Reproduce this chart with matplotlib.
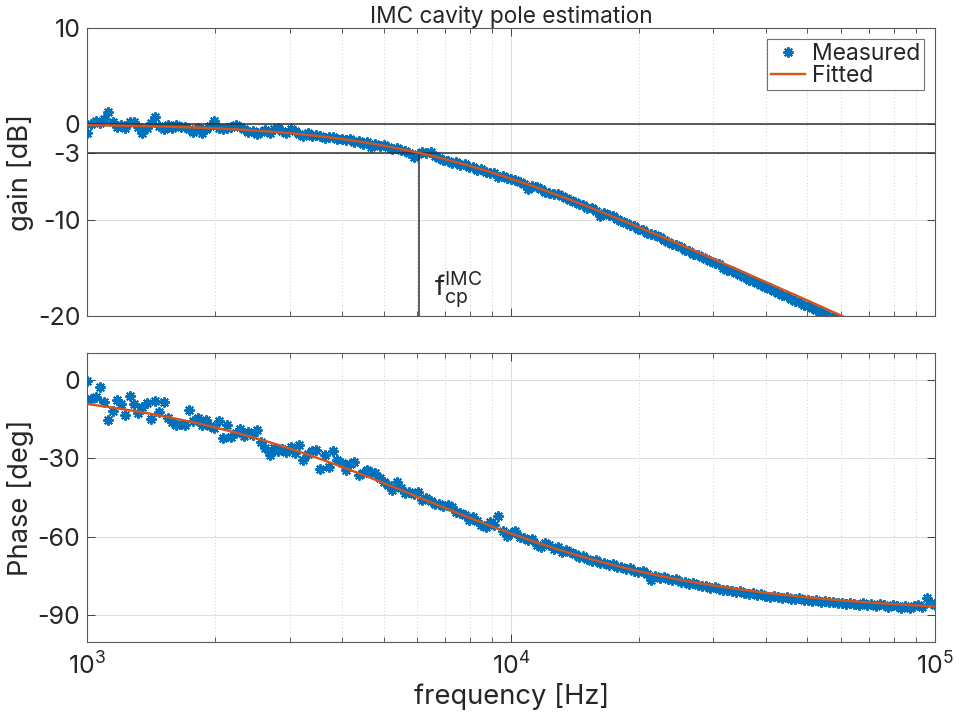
import numpy as np
import matplotlib
matplotlib.use("Agg")
import matplotlib.pyplot as plt
from matplotlib.ticker import LogLocator, FuncFormatter, NullFormatter

plt.rcParams["font.family"] = ["Inter", "DejaVu Sans"]
plt.rcParams["mathtext.fontset"] = "custom"
plt.rcParams["mathtext.rm"] = "Inter"
plt.rcParams["axes.unicode_minus"] = False

# ---- measured transfer function (swept sine, 100 points per decade) ----
freq_hz = [
    1000, 1023, 1047, 1072, 1096, 1122, 1148, 1175, 1202, 1230,
    1259, 1288, 1318, 1349, 1380, 1413, 1445, 1479, 1514, 1549,
    1585, 1622, 1660, 1698, 1738, 1778, 1820, 1862, 1905, 1950,
    1995, 2042, 2089, 2138, 2188, 2239, 2291, 2344, 2399, 2455,
    2512, 2570, 2630, 2692, 2754, 2818, 2884, 2951, 3020, 3090,
    3162, 3236, 3311, 3388, 3467, 3548, 3631, 3715, 3802, 3890,
    3981, 4074, 4169, 4266, 4365, 4467, 4571, 4677, 4786, 4898,
    5012, 5129, 5248, 5370, 5495, 5623, 5754, 5888, 6026, 6166,
    6310, 6457, 6607, 6761, 6918, 7079, 7244, 7413, 7586, 7762,
    7943, 8128, 8318, 8511, 8710, 8913, 9120, 9333, 9550, 9772,
    10000, 10233, 10471, 10715, 10965, 11220, 11482, 11749, 12023, 12303,
    12589, 12882, 13183, 13490, 13804, 14125, 14454, 14791, 15136, 15488,
    15849, 16218, 16596, 16982, 17378, 17783, 18197, 18621, 19055, 19498,
    19953, 20417, 20893, 21380, 21878, 22387, 22909, 23442, 23988, 24547,
    25119, 25704, 26303, 26915, 27542, 28184, 28840, 29512, 30200, 30903,
    31623, 32359, 33113, 33884, 34674, 35481, 36308, 37154, 38019, 38905,
    39811, 40738, 41687, 42658, 43652, 44668, 45709, 46774, 47863, 48978,
    50119, 51286, 52481, 53703, 54954, 56234, 57544, 58884, 60256, 61660,
    63096, 64565, 66069, 67608, 69183, 70795, 72444, 74131, 75858, 77625,
    79433, 81283, 83176, 85114, 87096, 89125, 91201, 93325, 95499, 97724,
    100000,
]

gain_meas_db = [
    -0.90, 0.05, 0.35, 0.10, 0.55, 1.25, 0.20, -0.35, -0.10, -0.45,
    0.25, 0.20, -0.30, -0.95, -0.40, 0.15, 0.70, -0.20, -0.55, -0.10,
    -0.45, -0.10, -0.35, -0.30, -0.50, -0.80, -0.40, -0.95, -0.55, -0.25,
    0.35, -0.40, -0.55, -0.45, -0.30, -0.15, -0.35, -0.55, -0.80, -0.70,
    -1.05, -0.85, -0.65, -0.95, -0.55, -0.40, -0.75, -0.95, -0.50, -0.70,
    -1.00, -1.20, -0.95, -1.25, -1.10, -1.20, -1.50, -1.30, -1.35, -1.60,
    -1.55, -1.70, -1.55, -1.85, -1.75, -2.05, -1.90, -2.35, -2.05, -2.30,
    -2.15, -2.40, -2.65, -2.45, -2.70, -2.85, -3.05, -3.45, -3.15, -2.95,
    -3.05, -2.95, -3.30, -3.55, -3.75, -3.80, -4.05, -4.00, -4.30, -4.20,
    -4.45, -4.50, -4.80, -4.70, -4.95, -5.10, -5.15, -5.50, -5.45, -5.65,
    -5.75, -5.80, -6.05, -6.20, -6.75, -6.45, -6.60, -6.75, -7.05, -7.20,
    -7.30, -7.25, -7.45, -7.75, -7.95, -8.10, -8.30, -8.40, -8.75, -8.70,
    -9.05, -9.55, -9.25, -9.45, -9.60, -9.85, -10.15, -10.30, -10.55, -10.60,
    -10.90, -11.05, -11.35, -11.50, -11.60, -11.80, -12.10, -12.25, -12.45, -12.55,
    -12.85, -13.10, -13.25, -13.50, -13.65, -13.85, -14.10, -14.30, -14.50, -14.60,
    -14.95, -15.20, -15.35, -15.50, -15.75, -15.95, -16.20, -16.35, -16.60, -16.80,
    -16.95, -17.20, -17.40, -17.55, -17.80, -17.95, -18.20, -18.40, -18.55, -18.80,
    -18.95, -19.20, -19.40, -19.55, -19.80, -19.95, -20.15, -20.35, -20.55, -20.75,
    -20.90, -21.10, -21.30, -21.50, -21.70, -21.90, -22.10, -22.30, -22.50, -22.70,
    -22.90, -23.10, -23.30, -23.50, -23.70, -23.90, -24.10, -24.30, -24.50, -24.70,
    -24.90,
]

phase_meas_deg = [
    -0.4, -7.6, -6.8, -2.9, -8.6, -15.4, -12.2, -8.0, -9.5, -13.5,
    -6.2, -9.3, -12.8, -10.5, -9.0, -15.2, -8.3, -12.5, -8.6, -14.5,
    -16.3, -17.5, -16.8, -17.2, -11.8, -16.0, -14.8, -17.3, -15.5, -17.9,
    -18.6, -15.7, -22.4, -17.3, -21.8, -20.3, -19.0, -21.5, -20.2, -21.0,
    -19.3, -23.7, -26.2, -28.8, -26.0, -27.2, -26.4, -27.6, -25.8, -28.1,
    -25.0, -30.7, -28.5, -27.4, -27.0, -34.2, -28.8, -33.2, -27.1, -30.7,
    -31.8, -34.5, -32.1, -31.5, -36.4, -35.8, -34.5, -35.2, -35.7, -37.5,
    -39.0, -40.2, -42.2, -39.0, -41.5, -43.4, -42.8, -43.6, -43.0, -46.0,
    -45.2, -46.5, -47.3, -47.5, -48.2, -47.8, -48.8, -50.6, -51.0, -51.8,
    -53.5, -52.6, -54.0, -55.5, -56.2, -54.5, -55.3, -52.1, -57.8, -59.5,
    -58.6, -57.7, -60.1, -60.4, -61.2, -61.0, -63.2, -63.8, -62.5, -63.3,
    -64.8, -64.0, -65.6, -65.2, -65.9, -66.6, -67.8, -67.3, -68.3, -69.2,
    -68.8, -69.9, -70.0, -70.8, -70.4, -71.5, -71.6, -72.4, -71.9, -72.9,
    -73.4, -73.1, -74.3, -76.5, -74.9, -75.6, -75.2, -76.1, -76.5, -76.0,
    -77.1, -77.4, -77.8, -77.6, -78.3, -78.6, -78.9, -79.4, -79.1, -79.8,
    -80.2, -80.1, -80.6, -80.9, -80.5, -81.3, -81.7, -81.6, -82.3, -81.9,
    -82.5, -82.8, -82.4, -83.1, -83.4, -83.0, -83.6, -83.9, -83.5, -84.2,
    -84.0, -84.5, -84.1, -84.8, -84.6, -85.0, -84.7, -85.3, -85.1, -85.6,
    -85.2, -85.5, -85.9, -85.4, -86.1, -85.7, -86.3, -85.8, -86.0, -86.6,
    -85.9, -86.4, -87.0, -86.2, -87.3, -86.5, -86.1, -86.8, -83.2, -85.3,
    -85.9,
]

# ---- single-pole fit ----
fit_freq_hz = [
    1000, 1122, 1259, 1413, 1585, 1778, 1995, 2239, 2512, 2818,
    3162, 3548, 3981, 4467, 5012, 5623, 6310, 7079, 7943, 8913,
    10000, 11220, 12589, 14125, 15849, 17783, 19953, 22387, 25119, 28184,
    31623, 35481, 39811, 44668, 50119, 56234, 63096, 70795, 79433, 89125,
    100000,
]
fit_gain_db = [
    -0.12, -0.15, -0.18, -0.23, -0.29, -0.36, -0.45, -0.55, -0.69, -0.85,
    -1.04, -1.28, -1.55, -1.88, -2.26, -2.69, -3.18, -3.73, -4.33, -4.99,
    -5.70, -6.45, -7.24, -8.07, -8.93, -9.82, -10.72, -11.65, -12.58, -13.53,
    -14.49, -15.46, -16.44, -17.42, -18.40, -19.39, -20.38, -21.37, -22.36, -23.36,
    -24.35,
]
fit_phase_deg = [
    -9.36, -10.47, -11.72, -13.10, -14.63, -16.33, -18.20, -20.24, -22.48, -24.90,
    -27.51, -30.31, -33.26, -36.35, -39.54, -42.81, -46.11, -49.39, -52.61, -55.74,
    -58.74, -61.59, -64.26, -66.75, -69.04, -71.15, -73.08, -74.83, -76.42, -77.85,
    -79.13, -80.29, -81.33, -82.26, -83.10, -83.84, -84.51, -85.10, -85.63, -86.10,
    -86.53,
]

cavity_pole_hz = 6070
half_power_db = -3

gain_ticks = [-20, -10, -3, 0, 10]
phase_ticks = [-90, -60, -30, 0]

BLUE = "#0072BD"
ORANGE = "#D95319"
TXT = "#262626"
asterisk = (8, 2, 0)

fig = plt.figure(figsize=(9.59, 7.15), dpi=100)
ax1 = fig.add_axes([0.0910, 0.558, 0.884, 0.4028])
ax2 = fig.add_axes([0.0910, 0.1025, 0.884, 0.4034])


def style_axes(ax):
    ax.set_xscale("log")
    ax.set_xlim(1e3, 1e5)
    ax.xaxis.set_major_locator(LogLocator(base=10, numticks=10))
    ax.xaxis.set_minor_locator(LogLocator(base=10, subs=range(2, 10), numticks=30))
    ax.xaxis.set_minor_formatter(NullFormatter())
    ax.tick_params(which="both", direction="in", top=True, right=True,
                   color="#404040", labelcolor=TXT)
    ax.tick_params(which="major", length=6, width=0.7, labelsize=18, pad=5)
    ax.tick_params(which="minor", length=3.5, width=0.6)
    ax.grid(True, which="major", color="#dedede", lw=0.8)
    ax.grid(True, which="minor", axis="x", color="#cfcfcf", lw=0.7,
            linestyle=(0, (1, 2.5)))
    ax.set_axisbelow(True)
    for sp in ax.spines.values():
        sp.set_color("#5a5a5a")
        sp.set_linewidth(0.8)


style_axes(ax1)
style_axes(ax2)

# ---- gain panel ----
meas_line, = ax1.plot(freq_hz, gain_meas_db, linestyle="none", marker=asterisk,
                      markersize=7.5, markeredgewidth=1.4, color=BLUE,
                      label="Measured", zorder=2)
ax1.axhline(0, color="#303030", lw=1.1, zorder=2.5)
ax1.axhline(half_power_db, color="#303030", lw=1.1, zorder=2.5)
ax1.plot([cavity_pole_hz, cavity_pole_hz], [-20, half_power_db],
         color="#303030", lw=1.1, zorder=2.5)
fit_line, = ax1.plot(fit_freq_hz, fit_gain_db, color=ORANGE, lw=1.7,
                     label="Fitted", zorder=3)
ax1.text(cavity_pole_hz * 1.085, -17.9, r"$\mathregular{f_{cp}^{IMC}}$",
         fontsize=20, color=TXT, ha="left", va="baseline")

ax1.set_ylim(-20, 10)
ax1.set_yticks(gain_ticks)
ax1.xaxis.set_major_formatter(NullFormatter())
ax1.set_ylabel("gain [dB]", fontsize=19.7, color=TXT)
ax1.yaxis.set_label_coords(-0.063, 0.5)
ax1.set_title("IMC cavity pole estimation", fontsize=16.3, color=TXT, pad=3)

leg = ax1.legend(handles=[meas_line, fit_line], loc="upper right",
                 fontsize=16.5, frameon=True, fancybox=False,
                 edgecolor="#707070", framealpha=1, borderaxespad=0.5,
                 borderpad=0.15, labelspacing=0.0, handlelength=1.5,
                 handletextpad=0.3, numpoints=1)
leg.get_frame().set_linewidth(0.8)
for t in leg.get_texts():
    t.set_color(TXT)

# ---- phase panel ----
ax2.plot(freq_hz, phase_meas_deg, linestyle="none", marker=asterisk,
         markersize=7.5, markeredgewidth=1.4, color=BLUE, zorder=2)
ax2.plot(fit_freq_hz, fit_phase_deg, color=ORANGE, lw=1.7, zorder=3)
ax2.set_ylim(-100, 10)
ax2.set_yticks(phase_ticks)
ax2.xaxis.set_major_formatter(
    FuncFormatter(lambda v, p: r"$\mathregular{10^{%d}}$" % round(np.log10(v))))
ax2.tick_params(axis="x", which="major", pad=8)
ax2.set_ylabel("Phase [deg]", fontsize=19.7, color=TXT)
ax2.yaxis.set_label_coords(-0.063, 0.5)
ax2.set_xlabel("frequency [Hz]", fontsize=19.7, color=TXT, labelpad=2)

fig.savefig("out.png", dpi=100)
